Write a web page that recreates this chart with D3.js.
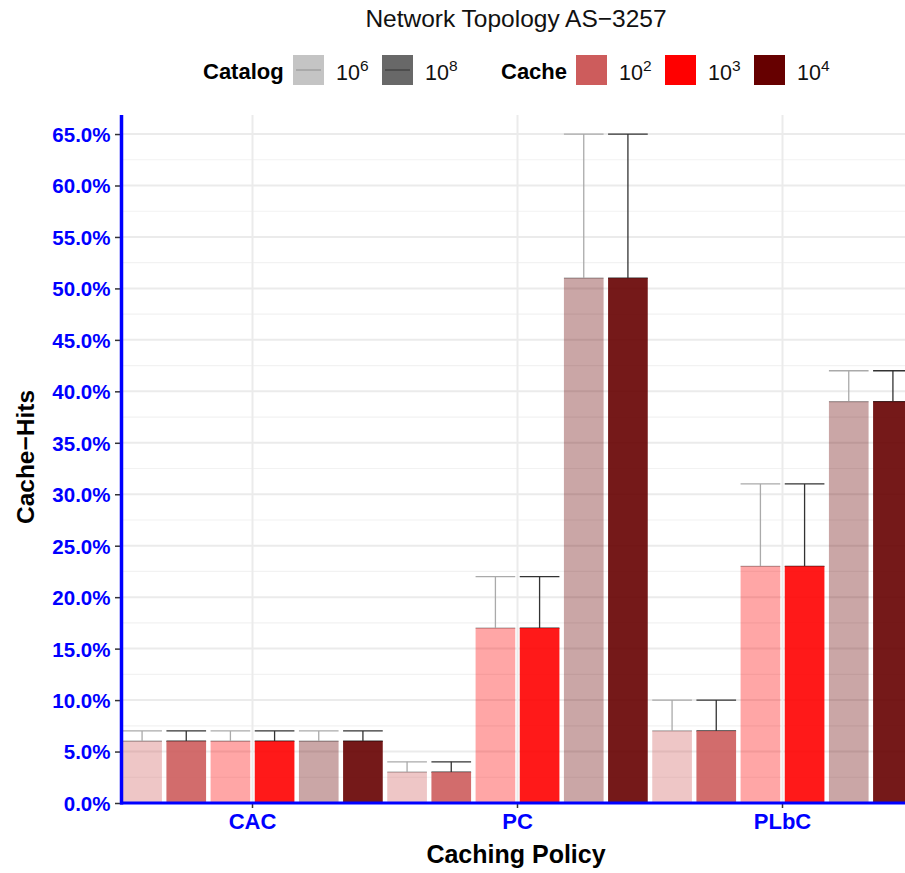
<!DOCTYPE html>
<html><head><meta charset="utf-8">
<script src="https://cdn.jsdelivr.net/npm/d3@7"></script>
<style>body{margin:0;background:#fff}svg{display:block;font-family:"Liberation Sans",Arial,Helvetica,sans-serif}</style>
</head><body><svg id="c" width="905" height="873"></svg>
<script>
const policies = ["CAC", "PC", "PLbC"];
const catalogs = ["10^6", "10^8"];
const caches = ["10^2", "10^3", "10^4"];
// values (%) per policy, order: cache 10^2,10^3,10^4 ; same for both catalogs
const hitsMean = {
  CAC:  [6, 6, 6],
  PC:   [3, 17, 51],
  PLbC: [7, 23, 39]
};
const hitsUpper = {
  CAC:  [7, 7, 7],
  PC:   [4, 22, 65],
  PLbC: [10, 31, 42]
};
const yTicks = [0, 5, 10, 15, 20, 25, 30, 35, 40, 45, 50, 55, 60, 65];
const cacheColors = {"10^2": "#CD5C5C", "10^3": "#FF0000", "10^4": "#660000"};
const catalogAlpha = {"10^6": 0.35, "10^8": 0.9};
const catalogErr = {"10^6": "#AAAAAA", "10^8": "#333333"};
const catalogKey = {"10^6": ["#C4C4C4", "#8E8E8E"], "10^8": ["#686868", "#333333"]};

const rows = [];
policies.forEach(p => caches.forEach((c, ci) => catalogs.forEach(k => {
  rows.push({policy: p, cache: c, catalog: k, key: c + "|" + k, v: hitsMean[p][ci], up: hitsUpper[p][ci]});
})));

const svg = d3.select("#c");
const L = 121.5, R = 915, T = 115, B = 803;
const blue = "#0000FF";

const x = d3.scaleBand().domain(policies).range([L - 1.5, R]).paddingInner(0).paddingOuter(0);
const sub = d3.scaleBand().domain(caches.flatMap(c => catalogs.map(k => c + "|" + k))).range([0, x.bandwidth()]);
const y = d3.scaleLinear().domain([0, 66.85]).range([B, T]);

const g = svg.append("g");
// minor grid
d3.range(2.5, 66, 5).forEach(v => {
  g.append("line").attr("x1", L).attr("x2", 905).attr("y1", y(v)).attr("y2", y(v))
    .attr("stroke", "#F2F2F2").attr("stroke-width", 1.2);
});
yTicks.forEach(v => {
  g.append("line").attr("x1", L).attr("x2", 905).attr("y1", y(v)).attr("y2", y(v))
    .attr("stroke", "#EBEBEB").attr("stroke-width", 2);
});
policies.forEach(p => {
  g.append("line").attr("x1", x(p) + x.bandwidth() / 2).attr("x2", x(p) + x.bandwidth() / 2)
    .attr("y1", T).attr("y2", B).attr("stroke", "#EBEBEB").attr("stroke-width", 2);
});

const gap = 4.5;
// error bars
rows.forEach(d => {
  const x0 = x(d.policy) + sub(d.key) + gap / 2, w = sub.bandwidth() - gap;
  const col = catalogErr[d.catalog];
  g.append("line").attr("x1", x0).attr("x2", x0 + w).attr("y1", y(d.up)).attr("y2", y(d.up)).attr("stroke", col).attr("stroke-width", 1.3);
  g.append("line").attr("x1", x0 + w / 2).attr("x2", x0 + w / 2).attr("y1", y(d.up)).attr("y2", y(d.v)).attr("stroke", col).attr("stroke-width", 1.3);
  g.append("line").attr("x1", x0).attr("x2", x0 + w).attr("y1", y(d.v)).attr("y2", y(d.v)).attr("stroke", col).attr("stroke-width", 1.3);
});
// bars
rows.forEach(d => {
  const x0 = x(d.policy) + sub(d.key) + gap / 2, w = sub.bandwidth() - gap;
  g.append("rect").attr("x", x0).attr("width", w).attr("y", y(d.v)).attr("height", B - y(d.v))
    .attr("fill", cacheColors[d.cache]).attr("fill-opacity", catalogAlpha[d.catalog]);
});

// axes
const yAxis = svg.append("g").attr("transform", `translate(${L},0)`)
  .call(d3.axisLeft(y).tickValues(yTicks).tickSize(5).tickPadding(4).tickFormat(v => v.toFixed(1) + "%"));
yAxis.select(".domain").remove();
yAxis.selectAll(".tick line").attr("stroke", "#333").attr("stroke-width", 1.5).attr("transform", "translate(-1.5,0)");
yAxis.selectAll(".tick text").attr("fill", blue).attr("font-size", 20.5).attr("font-weight", "bold")
  .attr("font-family", "Liberation Sans, Arial, sans-serif").attr("dx", -2).attr("dy", "0.36em");

const xAxis = svg.append("g").attr("transform", `translate(0,${B})`)
  .call(d3.axisBottom(x).tickSize(5).tickPadding(5));
xAxis.select(".domain").remove();
xAxis.selectAll(".tick line").attr("stroke", "#333").attr("stroke-width", 1.5);
xAxis.selectAll(".tick text").attr("fill", blue).attr("font-size", 22).attr("font-weight", "bold")
  .attr("font-family", "Liberation Sans, Arial, sans-serif");

svg.append("line").attr("x1", L).attr("x2", L).attr("y1", T).attr("y2", B + 1.5).attr("stroke", blue).attr("stroke-width", 3.5);
svg.append("line").attr("x1", L - 1.5).attr("x2", 905).attr("y1", B).attr("y2", B).attr("stroke", blue).attr("stroke-width", 3);

// titles
svg.append("text").attr("x", 516).attr("y", 27).attr("text-anchor", "middle").attr("font-size", 24.5)
  .attr("fill", "#111").text("Network Topology AS\u22123257");
svg.append("text").attr("x", 516).attr("y", 863).attr("text-anchor", "middle").attr("font-size", 25)
  .attr("font-weight", "bold").attr("fill", "#000").text("Caching Policy");
svg.append("text").attr("transform", "translate(34,457) rotate(-90)").attr("text-anchor", "middle")
  .attr("font-size", 24.5).attr("font-weight", "bold").attr("fill", "#000").text("Cache\u2212Hits");

// legend
const lg = svg.append("g");
const ky = 55, ks = 30;
lg.append("text").attr("x", 203).attr("y", 79).attr("font-size", 22).attr("font-weight", "bold").text("Catalog");
function supLabel(xp, lab) {
  const [b, e] = lab.split("^");
  const t = lg.append("text").attr("x", xp).attr("y", 80).attr("font-size", 21.5).attr("fill", "#111");
  t.append("tspan").text(b);
  t.append("tspan").attr("dy", -9).attr("font-size", 15.5).text(e);
}
const catX = [293, 382];
catalogs.forEach((k, i) => {
  lg.append("rect").attr("x", catX[i]).attr("y", ky).attr("width", ks + 1).attr("height", ks).attr("fill", catalogKey[k][0]);
  lg.append("line").attr("x1", catX[i] + 3).attr("x2", catX[i] + ks - 2).attr("y1", ky + ks / 2).attr("y2", ky + ks / 2)
    .attr("stroke", catalogKey[k][1]).attr("stroke-width", 1);
  supLabel(catX[i] + ks + 13, k);
});
lg.append("text").attr("x", 501).attr("y", 79).attr("font-size", 22).attr("font-weight", "bold").text("Cache");
const cacX = [576, 665, 754];
caches.forEach((c, i) => {
  lg.append("rect").attr("x", cacX[i]).attr("y", ky).attr("width", ks + 1).attr("height", ks).attr("fill", cacheColors[c]);
  supLabel(cacX[i] + ks + 13, c);
});
</script></body></html>
